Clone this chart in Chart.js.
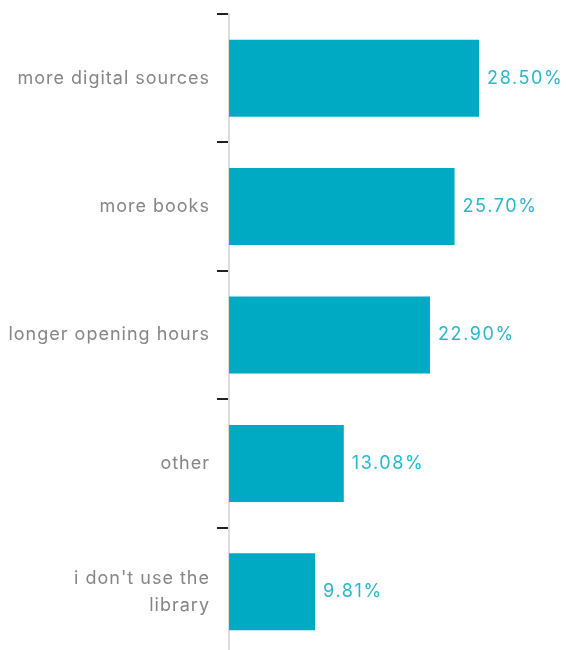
<!DOCTYPE html>
<html>
<head>
<meta charset="utf-8">
<script src="https://cdn.jsdelivr.net/npm/chart.js@4"></script>
<style>
  html, body { margin: 0; padding: 0; background: #fff; overflow: hidden; }
</style>
</head>
<body>
<canvas id="chart" width="566" height="656"></canvas>
<script>
// --- Chart data ---
const categories = [
    'more digital sources',
    'more books',
    'longer opening hours',
    'other',
    ["i don't use the", 'library']
];
const shares = [28.5, 25.7, 22.9, 13.08, 9.81];
const valueLabels = ['28.50%', '25.70%', '22.90%', '13.08%', '9.81%'];

const fontFamily = 'Inter, "Liberation Sans", Arial, sans-serif';

// The reference type is set a little looser than Inter
const letterSpacingPlugin = {
    id: 'letterSpacing',
    beforeDraw(chart) {
        chart.ctx.letterSpacing = '1px';
    }
};

// Draw the percentage next to each bar
const valueLabelPlugin = {
    id: 'valueLabels',
    afterDatasetsDraw(chart) {
        const ctx = chart.ctx;
        const meta = chart.getDatasetMeta(0);
        ctx.save();
        ctx.font = '18px ' + fontFamily;
        ctx.letterSpacing = '1.6px';
        ctx.fillStyle = '#2ab7cc';
        ctx.textAlign = 'left';
        ctx.textBaseline = 'middle';
        meta.data.forEach((bar, i) => {
            ctx.fillText(valueLabels[i], bar.x + 8, bar.y);
        });
        ctx.restore();
    }
};

const ctx = document.getElementById('chart');
new Chart(ctx, {
    type: 'bar',
    data: {
        labels: categories,
        datasets: [{
            data: shares,
            backgroundColor: '#00aac2',
            borderWidth: 0,
            barPercentage: 0.6,
            categoryPercentage: 1
        }]
    },
    options: {
        indexAxis: 'y',
        responsive: false,
        animation: false,
        layout: { padding: { top: 14, right: 0, bottom: 0, left: 0 } },
        plugins: {
            legend: { display: false },
            tooltip: { enabled: false }
        },
        scales: {
            x: {
                display: false,
                min: 0,
                max: 38.4
            },
            y: {
                afterFit: function(scale) {
                    scale.width = 229;
                    scale.paddingTop = 0;
                    scale.paddingBottom = 0;
                },
                grid: {
                    offset: true,
                    drawOnChartArea: false,
                    drawTicks: true,
                    tickLength: 12,
                    color: '#222',
                    lineWidth: 2
                },
                border: { color: '#dddddd', width: 2 },
                ticks: {
                    color: '#858585',
                    padding: 7,
                    font: { family: fontFamily, size: 18, lineHeight: 1.5 }
                }
            }
        }
    },
    plugins: [letterSpacingPlugin, valueLabelPlugin]
});
</script>
</body>
</html>
